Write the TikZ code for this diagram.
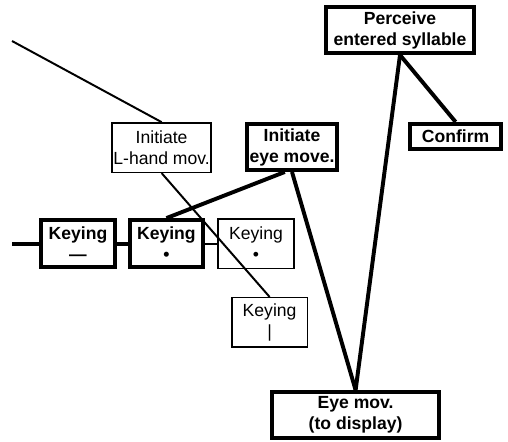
\documentclass[tikz,border=0pt]{standalone}
\usepackage{fontspec}
\setmainfont{Liberation Sans}
\usepackage{tikz}
\usetikzlibrary{calc}

\begin{document}
\begin{tikzpicture}
	
		\useasboundingbox (0,0) rectangle (12.7,-11.025);
	
		\tikzstyle{boldstep}=[draw, rectangle, line width=2.8pt, align=center, font=\fontsize{12.5}{15}\selectfont\bfseries, inner sep=1pt]
	
		\tikzstyle{plainstep}=[draw, rectangle, line width=1.1pt, align=center, font=\fontsize{12.5}{15}\selectfont, inner sep=1pt]

		\node[boldstep, minimum width=3.7cm, minimum height=1.15cm] (P) at (10.0,-0.75) {Perceive\\entered syllable};
		\node[boldstep, minimum width=2.275cm, minimum height=0.625cm] (C) at (11.39,-3.41) {Confirm};
		
		\node[plainstep, minimum width=2.435cm, minimum height=1.235cm] (L) at (4.04,-3.69) {Initiate\\L-hand mov.};
		\node[boldstep, minimum width=2.25cm, minimum height=1.15cm] (E) at (7.3,-3.675) {Initiate\\eye move.};
		
		\node[boldstep, minimum width=1.85cm, minimum height=1.175cm] (K1) at (1.95,-6.09) {Keying\\—};
		\node[boldstep, minimum width=1.825cm, minimum height=1.175cm] (K2) at (4.16,-6.09) {Keying\\•};
		\node[plainstep, minimum width=1.91cm, minimum height=1.235cm] (K3) at (6.4,-6.09) {Keying\\•};
		\node[plainstep, minimum width=1.885cm, minimum height=1.235cm] (K4) at (6.74,-8.06) {Keying\\|};
		
		\node[boldstep, minimum width=4.175cm, minimum height=1.15cm] (M) at (8.89,-10.375) {Eye mov.\\(to display)};
		
		\coordinate (top) at (0.3,-1.025);
		\coordinate (left) at (0.3,-6.09);
		
		\tikzstyle{boldLink}=[line width=2.8pt]
		\tikzstyle{plainLink}=[line width=1.4pt]
		
		\draw[plainLink] (top)--(L.north);
		\draw[plainLink] (L.south)--(K4.north);
		
		\draw[boldLink] (left)--(K1.west);
		\draw[boldLink] (K1.east)--(K2.west);
		\draw[plainLink] (K2.east)--(K3.west);
		
		\draw[boldLink] (K2.north)--($(E.south)+(-0.18,0)$);
		\draw[boldLink] (E.south)--(M.north);
		
		\draw[boldLink] (P.south)--(M.north);
		\draw[boldLink] (P.south)--(C.north);
		
	\end{tikzpicture}
\end{document}
